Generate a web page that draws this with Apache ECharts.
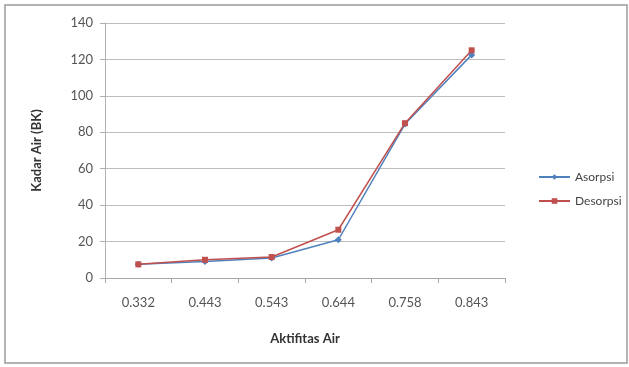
<!DOCTYPE html>
<html>
<head>
<meta charset="utf-8">
<script src="https://cdn.jsdelivr.net/npm/echarts@6/dist/echarts.min.js"></script>
<style>
  html, body { margin: 0; padding: 0; background: #fff; }
  #chart { width: 629px; height: 367px; }
</style>
</head>
<body>
<div id="chart"></div>
<script>
// Water activity categories and moisture content (dry basis)
const categories = ['0.332', '0.443', '0.543', '0.644', '0.758', '0.843'];
const asorpsi = [7.5, 9, 11, 21, 84.5, 122.5];
const desorpsi = [7.5, 10, 11.5, 26.5, 85, 125];

const fontFamily = 'Lato, "Open Sans", sans-serif';
const chart = echarts.init(document.getElementById('chart'));

chart.setOption({
  backgroundColor: '#fff',
  animation: false,
  graphic: [{
    type: 'rect',
    shape: { x: 5, y: 5, width: 622, height: 358 },
    style: { fill: 'none', stroke: '#9a9a9a', lineWidth: 1.5 },
    silent: true
  }],
  grid: { left: 105, right: 124, top: 23, bottom: 89 },
  legend: {
    orient: 'vertical',
    left: 533,
    top: 166,
    itemGap: 12,
    itemWidth: 31,
    itemHeight: 7,
    textStyle: { fontFamily, fontSize: 12, color: '#444' },
    data: ['Asorpsi', 'Desorpsi']
  },
  xAxis: {
    type: 'category',
    data: categories,
    boundaryGap: true,
    name: 'Aktifitas Air',
    nameLocation: 'middle',
    nameGap: 54,
    nameTextStyle: { fontFamily, fontSize: 13, fontWeight: 'bold', color: '#333' },
    axisLine: { lineStyle: { color: '#a8a8a8', width: 1 } },
    axisTick: { show: true, alignWithLabel: false, length: 5, lineStyle: { color: '#a8a8a8' } },
    axisLabel: { fontFamily, fontSize: 13, color: '#555', margin: 18 },
    splitLine: { show: false }
  },
  yAxis: {
    type: 'value',
    min: 0,
    max: 140,
    interval: 20,
    name: 'Kadar Air (BK)',
    nameLocation: 'middle',
    nameGap: 62,
    nameRotate: 90,
    nameTextStyle: { fontFamily, fontSize: 13, fontWeight: 'bold', color: '#333' },
    axisLine: { show: true, lineStyle: { color: '#b0b0b0', width: 1 } },
    axisTick: { show: true, length: 5, lineStyle: { color: '#b0b0b0' } },
    axisLabel: { fontFamily, fontSize: 13, color: '#555', margin: 12 },
    splitLine: { show: true, lineStyle: { color: '#bdbdbd', width: 1 } }
  },
  series: [
    {
      name: 'Asorpsi',
      type: 'line',
      data: asorpsi,
      color: '#4F81BD',
      symbol: 'diamond',
      symbolSize: 7,
      lineStyle: { width: 1.5 },
      itemStyle: { color: '#4F81BD' }
    },
    {
      name: 'Desorpsi',
      type: 'line',
      data: desorpsi,
      color: '#C0504D',
      symbol: 'rect',
      symbolSize: 6,
      lineStyle: { width: 1.5 },
      itemStyle: { color: '#C0504D' }
    }
  ]
});
</script>
</body>
</html>
